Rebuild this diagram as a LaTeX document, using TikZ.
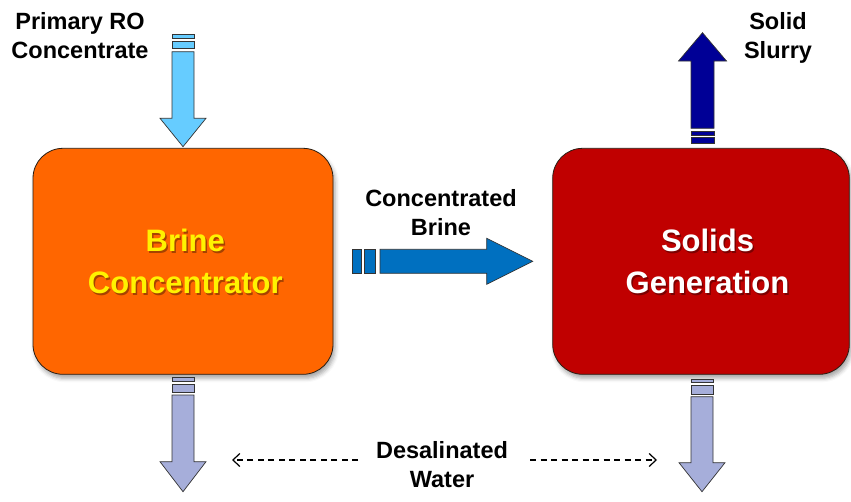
\documentclass[tikz,border=0pt]{standalone}
\usepackage{fontspec}
\setmainfont{Liberation Sans}
\usetikzlibrary{arrows.meta,shadows.blur}

\definecolor{brineorange}{RGB}{255,102,0}
\definecolor{solidsred}{RGB}{192,0,0}
\definecolor{feedblue}{RGB}{102,204,255}
\definecolor{brineblue}{RGB}{0,112,192}
\definecolor{slurryblue}{RGB}{0,0,150}
\definecolor{waterlav}{RGB}{166,174,218}
\definecolor{boxline}{RGB}{40,30,20}

\tikzset{
  procbox/.style={draw=boxline, line width=0.8pt, rounded corners=30pt,
    blur shadow={shadow xshift=2pt, shadow yshift=-4pt,
      shadow blur radius=4pt, shadow opacity=35}},
  boxlabel/.style={font=\fontsize{31}{42}\selectfont\bfseries, align=center,
    inner sep=0pt},
  boxlabelshadow/.style={boxlabel, text=black, text opacity=0.35},
  flowlabel/.style={font=\fontsize{23.5}{29}\selectfont\bfseries,
    align=center, inner sep=0pt, text=black},
  blockarrow/.style={draw=black!80, line width=0.7pt, line join=miter},
  waterarrow/.style={draw=black, line width=1.2pt, dash pattern=on 6pt off 4.5pt,
    -{Straight Barb[length=7pt,width=13pt,line width=1.2pt]}}
}

\begin{document}
\begin{tikzpicture}[x=1pt,y=-1pt]
\useasboundingbox (0,0) rectangle (851,501);

% process blocks
\node[procbox, fill=brineorange, minimum width=300pt, minimum height=226pt]
  (bc) at (183,261.3) {};
\node[procbox, fill=solidsred, minimum width=296.6pt, minimum height=226pt]
  (sg) at (701,261.3) {};

% block labels with a soft drop shadow
\node[boxlabelshadow] (bcs) at (186.8,263.2) {Brine\\Concentrator};
\node[boxlabel, text=yellow] (bct) at (185.3,261.7) {Brine\\Concentrator};
\node[boxlabelshadow] (sgs) at (709,263.2) {Solids\\Generation};
\node[boxlabel, text=white] (sgt) at (707.5,261.7) {Solids\\Generation};

% primary RO concentrate feed (down into the brine concentrator)
\filldraw[blockarrow, fill=feedblue] (172,34) rectangle (194,38.3);
\filldraw[blockarrow, fill=feedblue] (172,41) rectangle (194,48.3);
\filldraw[blockarrow, fill=feedblue]
  (172,51.7) -- (194,51.7) -- (194,118.3) -- (206,118.3) -- (183,146.7)
  -- (160,118.3) -- (172,118.3) -- cycle;

% concentrated brine transfer
\filldraw[blockarrow, fill=brineblue] (352.7,249.3) rectangle (361.7,273.3);
\filldraw[blockarrow, fill=brineblue] (364,249.3) rectangle (375,273.3);
\filldraw[blockarrow, fill=brineblue]
  (380,249.3) -- (486.7,249.3) -- (486.7,238.3) -- (532.7,261.3)
  -- (486.7,284.3) -- (486.7,273.3) -- (380,273.3) -- cycle;

% solid slurry leaving the solids generation block
\filldraw[blockarrow, fill=slurryblue] (691,131) rectangle (714,135);
\filldraw[blockarrow, fill=slurryblue] (691,137.5) rectangle (714,143);
\filldraw[blockarrow, fill=slurryblue]
  (702.5,32.7) -- (726.5,61) -- (714,61) -- (714,128.3) -- (691,128.3)
  -- (691,61) -- (678.5,61) -- cycle;

% desalinated water outlets
\filldraw[blockarrow, fill=waterlav] (172,377.3) rectangle (194,381.7);
\filldraw[blockarrow, fill=waterlav] (172,384.3) rectangle (194,392.7);
\filldraw[blockarrow, fill=waterlav]
  (172,395) -- (194,395) -- (194,461.7) -- (206,461.7) -- (183,491.7)
  -- (160,461.7) -- (172,461.7) -- cycle;

\filldraw[blockarrow, fill=waterlav] (691,379) rectangle (713,382.7);
\filldraw[blockarrow, fill=waterlav] (691,385.7) rectangle (713,394);
\filldraw[blockarrow, fill=waterlav]
  (691,396.7) -- (713,396.7) -- (713,462.7) -- (725,462.7) -- (702,491.7)
  -- (679,462.7) -- (691,462.7) -- cycle;

% flow labels
\node[flowlabel] (feed) at (80,35.5) {Primary RO\\Concentrate};
\node[flowlabel] (slurry) at (778,38) {Solid\\Slurry};
\node[flowlabel] (cbrine) at (441,212.5) {Concentrated\\Brine};
\node[flowlabel] (water) at (442,465) {Desalinated\\Water};

% dashed pointers from the water label to both outlets
\coordinate (wl0) at (358,460);
\coordinate (wl1) at (232,460);
\coordinate (wr0) at (530,460);
\coordinate (wr1) at (657,460);
\draw[waterarrow] (wl0) -- (wl1);
\draw[waterarrow] (wr0) -- (wr1);
\end{tikzpicture}
\end{document}
